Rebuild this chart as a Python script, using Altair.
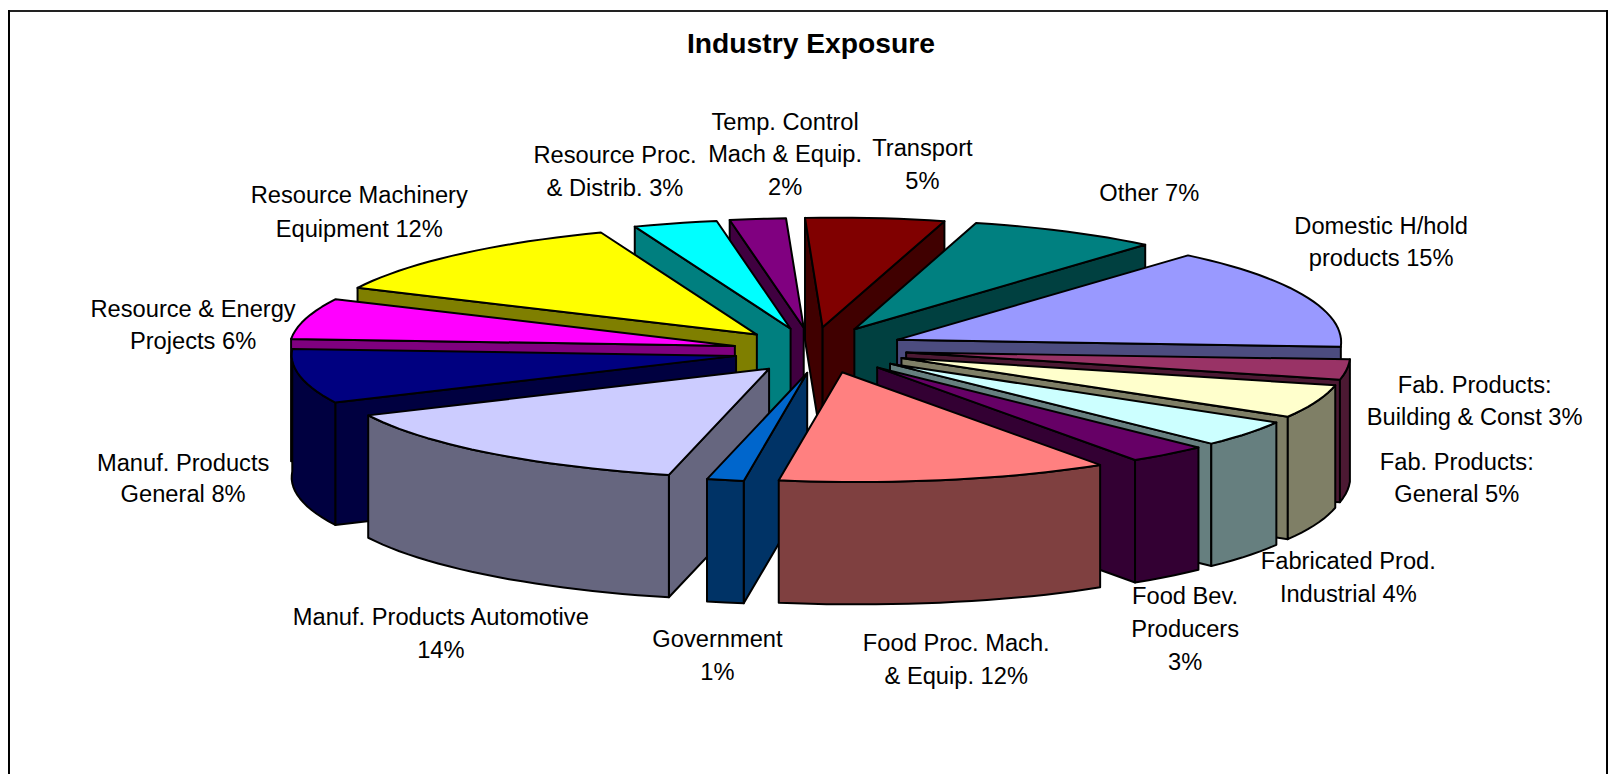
import math
import altair as alt

# ---- data -----------------------------------------------------------------
categories = ["Domestic H/hold products", "Fab. Products: Building & Const",
              "Fab. Products: General", "Fabricated Prod. Industrial",
              "Food Bev. Producers", "Food Proc. Mach. & Equip.", "Government",
              "Manuf. Products Automotive", "Manuf. Products General",
              "Resource & Energy Projects", "Resource Machinery Equipment",
              "Resource Proc. & Distrib.", "Temp. Control Mach & Equip.",
              "Transport", "Other"]
# unrounded slice sizes estimated from the slices' widths (labels show them rounded)
shares = [15, 3, 5, 4, 3, 11.7, 1.3, 14, 8, 6, 12, 3, 2, 5, 7]
top_colors = ["#9999FF", "#993366", "#FFFFCC", "#CCFFFF", "#660066", "#FF8080",
              "#0066CC", "#CCCCFF", "#000080", "#FF00FF", "#FFFF00", "#00FFFF",
              "#800080", "#800000", "#008080"]

label_lines = [
    ["Domestic H/hold", "products 15%"],
    ["Fab. Products:", "Building & Const 3%"],
    ["Fab. Products:", "General  5%"],
    ["Fabricated Prod.", "Industrial 4%"],
    ["Food Bev.", "Producers", "3%"],
    ["Food Proc. Mach.", "& Equip. 12%"],
    ["Government", "1%"],
    ["Manuf. Products Automotive", "14%"],
    ["Manuf. Products", "General 8%"],
    ["Resource & Energy", "Projects 6%"],
    ["Resource Machinery", "Equipment 12%"],
    ["Resource Proc.", "& Distrib. 3%"],
    ["Temp. Control", "Mach & Equip.", "2%"],
    ["Transport", "5%"],
    ["Other 7%"],
]
# label anchor (centre x, centre y of each line) in page pixels
label_x = [1388, 1482, 1464, 1355, 1191, 961, 721, 443, 184, 194, 361, 618, 789, 927, 1155]
label_y = [[226, 258], [386, 418], [463, 496], [563, 596], [598, 631, 664], [645, 678],
           [641, 674], [619, 652], [464, 496], [310, 342], [195, 229], [155, 188],
           [122, 154, 187], [148, 181], [193]]

# ---- projection of the exploded 3-D pie -----------------------------------
START = 36.0
CX, CY, EA, EB = 824.0, 350.0, 87.0, 23.0
B, DEPTH = 110.0, 123.0
DRAW_TILT = 3.5


def darker(h):
    return "#%02X%02X%02X" % tuple(int(h[i:i + 2], 16) // 2 for i in (1, 3, 5))


def rim(ax, ay, deg, dy=0.0):
    t = math.radians(deg)
    c, s = math.cos(t), math.sin(t)
    a = 446 + 13 * c + 15 * c * c
    k = 5 if 180 < deg % 360 < 270 else 12
    shift = 27 * c + 12 * c * c - k * math.sin(2 * t)
    return [round(ax + a * s + shift, 1), round(ay - B * c + 7 * s + dy, 1)]


def poly(points, fill):
    ring = points + [points[0]]
    return {"type": "Feature", "properties": {"fill": fill},
            "geometry": {"type": "Polygon", "coordinates": [ring]}}


wedges = []
angle = START
for name, share, color in zip(categories, shares, top_colors):
    sweep = share * 3.6
    wedges.append((angle, angle + sweep, color))
    angle += sweep
wedges.sort(key=lambda w: -math.cos(math.radians((w[0] + w[1]) / 2 + DRAW_TILT)))

features = []
for t1, t2, color in wedges:
    mid = math.radians((t1 + t2) / 2)
    ax, ay = CX + EA * math.sin(mid), CY - EB * math.cos(mid)
    side = darker(color)
    apex, apex_low = [round(ax, 1), round(ay, 1)], [round(ax, 1), round(ay + DEPTH, 1)]
    if math.sin(math.radians(t1)) < 0:
        features.append(poly([apex, rim(ax, ay, t1), rim(ax, ay, t1, DEPTH), apex_low], side))
    if math.sin(math.radians(t2)) > 0:
        features.append(poly([apex, rim(ax, ay, t2), rim(ax, ay, t2, DEPTH), apex_low], side))
    lo, hi = max(t1, 90.0), min(t2, 270.0)
    if hi > lo:
        n = max(2, int((hi - lo) / 2))
        steps = [lo + (hi - lo) * i / n for i in range(n + 1)]
        features.append(poly([rim(ax, ay, d) for d in steps] +
                             [rim(ax, ay, d, DEPTH) for d in reversed(steps)], side))
    n = max(2, int((t2 - t1) / 2))
    steps = [t1 + (t2 - t1) * i / n for i in range(n + 1)]
    features.append(poly([apex] + [rim(ax, ay, d) for d in steps], color))

shapes = alt.Chart(alt.InlineData(
    values={"type": "FeatureCollection", "features": features},
    format=alt.DataFormat(type="json", property="features"),
)).mark_geoshape(stroke="black", strokeWidth=2, strokeJoin="round").encode(
    fill=alt.Fill("properties.fill:N", scale=None, legend=None)
).project(type="identity", scale=1, translate=[-8, -8])

text_rows = []
for lines, x, ys in zip(label_lines, label_x, label_y):
    for line, y in zip(lines, ys):
        text_rows.append({"t": line, "x": x - 8, "y": y - 8})

labels = alt.Chart(alt.Data(values=text_rows)).mark_text(
    font="Liberation Sans", fontSize=23.8, color="black", align="center", baseline="middle"
).encode(
    x=alt.X("x:Q", scale=None, axis=None),
    y=alt.Y("y:Q", scale=None, axis=None),
    text="t:N",
)

title = alt.Chart(alt.Data(values=[{"t": "Industry Exposure", "x": 815 - 8, "y": 42 - 8}])).mark_text(
    font="Liberation Sans", fontSize=28.4, fontWeight="bold", color="black",
    align="center", baseline="middle"
).encode(x=alt.X("x:Q", scale=None, axis=None), y=alt.Y("y:Q", scale=None, axis=None), text="t:N")

frame_top = alt.Chart(alt.Data(values=[{"a": 0}])).mark_rule(color="#222222", strokeWidth=2).encode(
    x=alt.value(0), x2=alt.value(1608), y=alt.value(1))
frame_left = alt.Chart(alt.Data(values=[{"a": 0}])).mark_rule(color="black", strokeWidth=2).encode(
    x=alt.value(1), y=alt.value(0), y2=alt.value(768))
frame_right = alt.Chart(alt.Data(values=[{"a": 0}])).mark_rule(color="black", strokeWidth=2).encode(
    x=alt.value(1607), y=alt.value(0), y2=alt.value(768))

chart = alt.layer(
    frame_top, frame_left, frame_right, shapes, labels, title
).properties(
    width=1608, height=768, padding=0, background="white",
    autosize=alt.AutoSizeParams(type="none"),
).configure_view(stroke=None)

chart.save("out.html", embed_options={"renderer": "svg", "actions": False})
